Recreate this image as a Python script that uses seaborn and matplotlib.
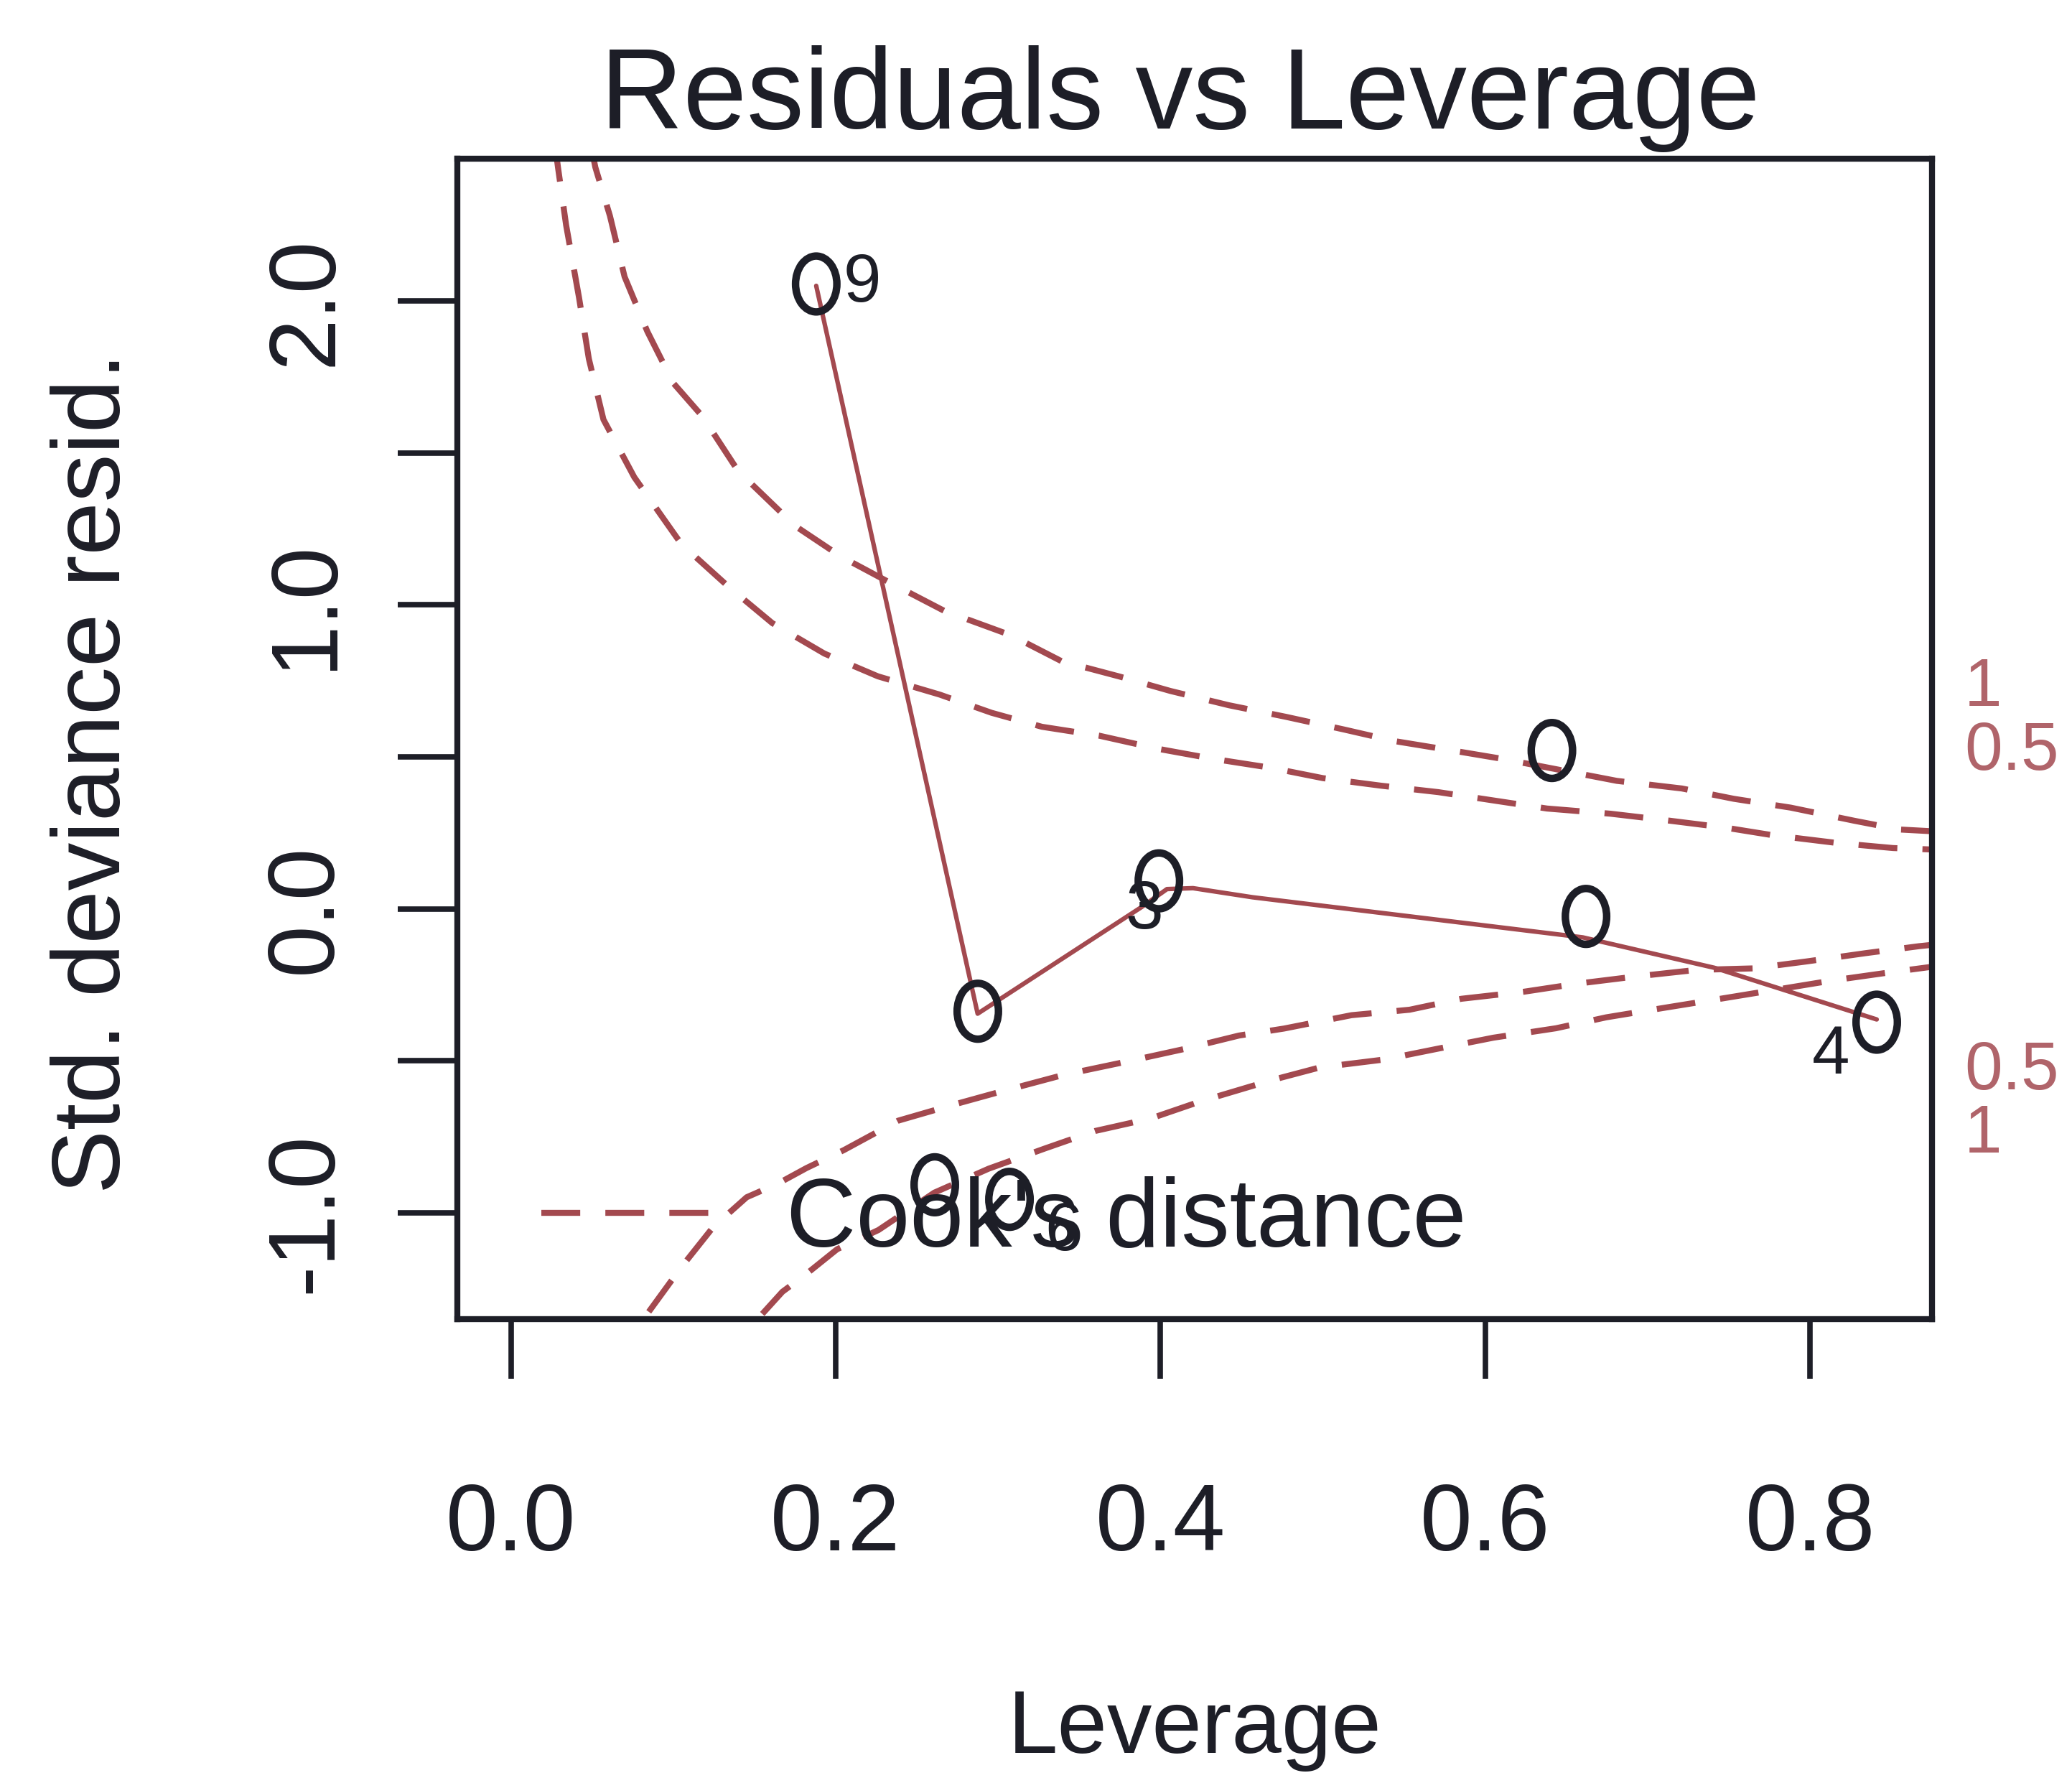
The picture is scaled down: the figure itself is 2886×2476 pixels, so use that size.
import matplotlib
matplotlib.use("Agg")
import matplotlib.pyplot as plt
import matplotlib.transforms as mtransforms
from matplotlib.path import Path
from matplotlib.markers import MarkerStyle
from matplotlib.lines import Line2D
import seaborn as sns

# ---- observations (leverage, standardized deviance residual) ----
leverage = [0.188, 0.261, 0.2875, 0.307, 0.399, 0.641, 0.662, 0.841]
std_resid = [2.056, -0.908, -0.337, -0.956, 0.092, 0.521, -0.025, -0.373]
point_ids = ["9", "", "", "6", "3", "", "", "4"]

# ---- smoother through the residuals ----
smooth_lev = [0.188, 0.2874, 0.3884, 0.404, 0.420, 0.4567, 0.660, 0.741, 0.841]
smooth_res = [2.05, -0.345, 0.006, 0.065, 0.068, 0.038, -0.094, -0.194, -0.364]

# ---- Cook's distance contours ----
cook1_up_lev = [0.049, 0.052, 0.061, 0.070, 0.084, 0.100, 0.118, 0.140, 0.175, 0.203,
                0.231, 0.267, 0.308, 0.339, 0.375, 0.406, 0.442, 0.477, 0.513, 0.544,
                0.583, 0.611, 0.681, 0.721, 0.753, 0.788, 0.827, 0.855, 0.876]
cook1_up_res = [2.52, 2.44, 2.28, 2.08, 1.90, 1.73, 1.62, 1.44, 1.26, 1.16,
                1.08, 0.98, 0.90, 0.815, 0.764, 0.717, 0.670, 0.632, 0.590, 0.552,
                0.518, 0.493, 0.421, 0.396, 0.362, 0.333, 0.290, 0.261, 0.255]

cook05_up_lev = [0.027, 0.029, 0.034, 0.042, 0.048, 0.057, 0.076, 0.105, 0.134, 0.161,
                 0.193, 0.226, 0.264, 0.296, 0.327, 0.362, 0.398, 0.433, 0.468, 0.500,
                 0.536, 0.571, 0.602, 0.638, 0.677, 0.709, 0.748, 0.776, 0.816, 0.851, 0.876]
cook05_up_res = [2.52, 2.44, 2.25, 2.01, 1.81, 1.61, 1.42, 1.20, 1.06, 0.94,
                 0.84, 0.765, 0.705, 0.645, 0.599, 0.570, 0.527, 0.493, 0.464, 0.430,
                 0.405, 0.384, 0.359, 0.330, 0.313, 0.293, 0.267, 0.243, 0.217, 0.200, 0.195]

cook05_lo_lev = [0.0849, 0.1048, 0.1246, 0.1452, 0.1648, 0.182, 0.205, 0.2385, 0.2728,
                 0.3006, 0.3406, 0.3798, 0.414, 0.4483, 0.476, 0.5176, 0.5534, 0.5852,
                 0.6235, 0.657, 0.692, 0.730, 0.765, 0.798, 0.834, 0.867, 0.876]
cook05_lo_res = [-1.326, -1.180, -1.047, -0.949, -0.903, -0.853, -0.794, -0.697, -0.644,
                 -0.603, -0.546, -0.502, -0.462, -0.417, -0.394, -0.350, -0.332, -0.296,
                 -0.273, -0.246, -0.223, -0.201, -0.196, -0.173, -0.146, -0.123, -0.118]

cook1_lo_lev = [0.1548, 0.1672, 0.1811, 0.2009, 0.2263, 0.2607, 0.2942, 0.3286, 0.3597,
                0.3939, 0.425, 0.469, 0.498, 0.5375, 0.571, 0.605, 0.6435, 0.6745,
                0.711, 0.747, 0.8146, 0.8505, 0.876]
cook1_lo_res = [-1.333, -1.260, -1.205, -1.120, -1.057, -0.934, -0.855, -0.789, -0.731,
                -0.690, -0.633, -0.563, -0.522, -0.496, -0.460, -0.424, -0.393, -0.357,
                -0.325, -0.294, -0.235, -0.208, -0.19]

# contour labels in the right margin
level_labels = ["1", "0.5", "0.5", "1"]
level_label_y = [0.726, 0.515, -0.537, -0.744]

x_ticks = [0.0, 0.2, 0.4, 0.6, 0.8]
x_tick_labels = ["0.0", "0.2", "0.4", "0.6", "0.8"]
y_ticks = [-1.0, -0.5, 0.0, 0.5, 1.0, 1.5, 2.0]
y_tick_labels = ["-1.0", "", "0.0", "", "1.0", "", "2.0"]

INK = "#1d1e27"
CURVE = "#a3494f"
LEVEL_RED = "#b0646a"

sns.set_style("white")
plt.rcParams["font.family"] = ["Liberation Sans", "DejaVu Sans"]

fig = plt.figure(figsize=(28.86, 24.76), dpi=100)
ax = fig.add_axes([0.2207, 0.2581, 0.7117, 0.6526])

dash = (0, (6.5, 4.2))
for lx, ly in [(cook1_up_lev, cook1_up_res), (cook05_up_lev, cook05_up_res),
               (cook05_lo_lev, cook05_lo_res), (cook1_lo_lev, cook1_lo_res)]:
    sns.lineplot(x=lx, y=ly, ax=ax, color=CURVE, linewidth=6.0, linestyle=dash,
                 sort=False, estimator=None, zorder=2)

sns.lineplot(x=smooth_lev, y=smooth_res, ax=ax, color=CURVE, linewidth=4.5,
             sort=False, estimator=None, zorder=2.5)

# open, slightly tall circles
ring = Path.unit_circle().transformed(mtransforms.Affine2D().scale(0.74, 1.0))
sns.scatterplot(x=leverage, y=std_resid, ax=ax, marker=MarkerStyle(ring), s=56 ** 2,
                facecolor="none", edgecolor=INK, linewidth=7.5, zorder=3)

label_offsets = {"9": (46, 0), "4": (-46, -34), "3": (-15, -30), "6": (54, -33)}
for lx, ly, lab in zip(leverage, std_resid, point_ids):
    if lab:
        ax.annotate(lab, (lx, ly), xytext=label_offsets[lab], textcoords="offset points",
                    ha="center", va="center", fontsize=68, color=INK, zorder=4)

ax.set_xlim(-0.033, 0.875)
ax.set_ylim(-1.35, 2.468)
ax.set_xticks(x_ticks)
ax.set_xticklabels(x_tick_labels)
ax.set_yticks(y_ticks)
ax.set_yticklabels(y_tick_labels, rotation=90, va="center")

ax.tick_params(axis="both", direction="out", length=60, width=5.5, colors=INK,
               labelsize=94, left=True, bottom=True)
ax.tick_params(axis="x", pad=103)
ax.tick_params(axis="y", pad=47)

for side in ["left", "right", "top", "bottom"]:
    ax.spines[side].set_visible(True)
    ax.spines[side].set_linewidth(6.0)
    ax.spines[side].set_color(INK)

trans = mtransforms.blended_transform_factory(ax.transAxes, ax.transData)
for lab, yv in zip(level_labels, level_label_y):
    ax.text(1.022, yv, lab, transform=trans, ha="left", va="center", fontsize=68,
            color=LEVEL_RED, clip_on=False)

handle = Line2D([], [], color=CURVE, linewidth=6.0, linestyle=dash)
ax.legend([handle], ["Cook's distance"], loc="center left", bbox_to_anchor=(0.057, 0.084),
          frameon=False, fontsize=97, handlelength=1.78, handletextpad=0.75,
          borderpad=0, borderaxespad=0, labelcolor=INK)

ax.set_xlabel("Leverage", fontsize=90, color=INK)
ax.xaxis.set_label_coords(0.5, -0.318)
ax.set_ylabel("Std. deviance resid.", fontsize=96, color=INK)
ax.yaxis.set_label_coords(-0.215, 0.4706)
ax.set_title("Residuals vs Leverage", fontsize=115, pad=30, color=INK)
ax.title.set_x(0.49)

fig.savefig("out.png", dpi=100)
